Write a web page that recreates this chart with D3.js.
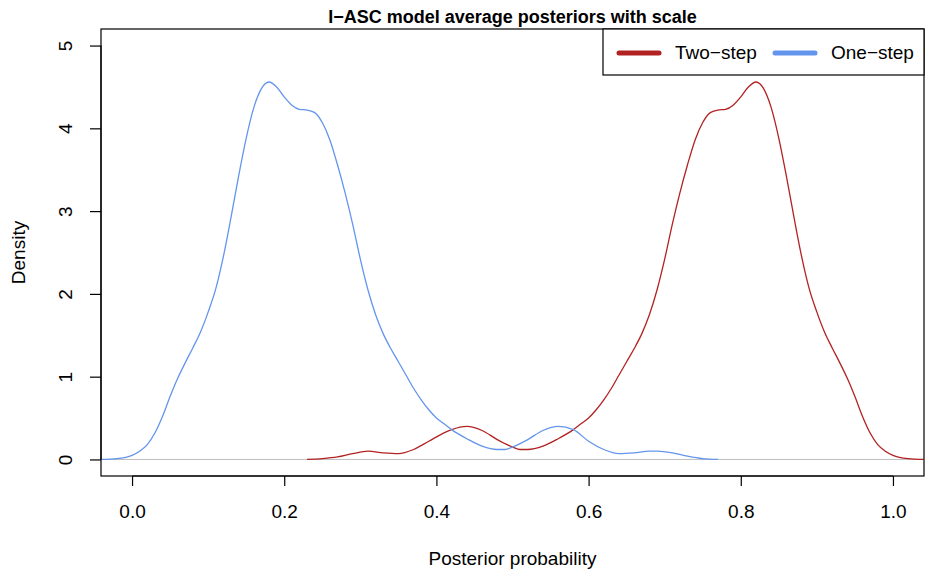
<!DOCTYPE html>
<html>
<head>
<meta charset="utf-8">
<script src="https://cdn.jsdelivr.net/npm/d3@7"></script>
<style>
  body { margin: 0; background: #fff; }
  text { font-family: "Liberation Sans", Arial, sans-serif; }
</style>
</head>
<body>
<div id="chart"></div>
<script>
// Density estimates
var twoStepX = [0.23, 0.25, 0.27, 0.29, 0.31, 0.33, 0.35, 0.37, 0.39, 0.41, 0.42, 0.44, 0.46, 0.48, 0.50, 0.51, 0.52, 0.54, 0.56, 0.58, 0.59, 0.60, 0.61, 0.62, 0.63, 0.64, 0.65, 0.66, 0.67, 0.68, 0.69, 0.70, 0.71, 0.72, 0.73, 0.74, 0.75, 0.76, 0.77, 0.78, 0.79, 0.80, 0.81, 0.82, 0.83, 0.84, 0.85, 0.86, 0.87, 0.88, 0.89, 0.90, 0.91, 0.92, 0.93, 0.94, 0.95, 0.96, 0.97, 0.98, 0.99, 1.00, 1.02, 1.04];
var twoStepY = [0.00, 0.01, 0.03, 0.07, 0.10, 0.08, 0.07, 0.12, 0.22, 0.32, 0.36, 0.40, 0.35, 0.24, 0.15, 0.12, 0.12, 0.16, 0.25, 0.36, 0.43, 0.50, 0.60, 0.72, 0.86, 1.02, 1.18, 1.34, 1.52, 1.75, 2.05, 2.42, 2.84, 3.22, 3.56, 3.86, 4.07, 4.19, 4.22, 4.23, 4.28, 4.38, 4.50, 4.56, 4.48, 4.25, 3.88, 3.42, 2.92, 2.45, 2.06, 1.78, 1.54, 1.35, 1.17, 0.98, 0.76, 0.52, 0.32, 0.18, 0.10, 0.05, 0.01, 0.00];

var oneStepX = [-0.04, -0.02, 0.00, 0.01, 0.02, 0.03, 0.04, 0.05, 0.06, 0.07, 0.08, 0.09, 0.10, 0.11, 0.12, 0.13, 0.14, 0.15, 0.16, 0.17, 0.18, 0.19, 0.20, 0.21, 0.22, 0.23, 0.24, 0.25, 0.26, 0.27, 0.28, 0.29, 0.30, 0.31, 0.32, 0.33, 0.34, 0.35, 0.36, 0.37, 0.38, 0.39, 0.40, 0.41, 0.42, 0.44, 0.46, 0.48, 0.49, 0.50, 0.52, 0.54, 0.56, 0.58, 0.60, 0.62, 0.64, 0.66, 0.68, 0.69, 0.71, 0.73, 0.75, 0.77];
var oneStepY = [0.00, 0.01, 0.05, 0.10, 0.18, 0.32, 0.52, 0.76, 0.98, 1.17, 1.35, 1.54, 1.78, 2.06, 2.45, 2.92, 3.42, 3.88, 4.25, 4.48, 4.56, 4.50, 4.38, 4.28, 4.23, 4.22, 4.19, 4.07, 3.86, 3.56, 3.22, 2.84, 2.42, 2.05, 1.75, 1.52, 1.34, 1.18, 1.02, 0.86, 0.72, 0.60, 0.50, 0.43, 0.36, 0.25, 0.16, 0.12, 0.12, 0.15, 0.24, 0.35, 0.40, 0.36, 0.22, 0.12, 0.07, 0.08, 0.10, 0.10, 0.08, 0.04, 0.01, 0.00];

var xTicks = [0.0, 0.2, 0.4, 0.6, 0.8, 1.0];
var yTicks = [0, 1, 2, 3, 4, 5];
var seriesNames = ["Two\u2212step", "One\u2212step"];
var seriesColors = ["#b22222", "#6495ed"];

var svgWidth = 927;
var svgHeight = 574;
var plot = { left: 101, right: 924, top: 29, bottom: 476 };

var svg = d3.select("#chart")
  .append("svg")
  .attr("width", svgWidth)
  .attr("height", svgHeight);

var xScale = d3.scaleLinear()
  .domain([-0.0408, 1.0408])
  .range([plot.left, plot.right]);

var yScale = d3.scaleLinear()
  .domain([-0.2, 5.2])
  .range([plot.bottom, plot.top]);

// zero line
svg.append("line")
  .attr("x1", plot.left).attr("x2", plot.right)
  .attr("y1", yScale(0)).attr("y2", yScale(0))
  .attr("stroke", "#bebebe")
  .attr("stroke-width", 1);

// density curves
var line = d3.line()
  .x(d => xScale(d[0]))
  .y(d => yScale(d[1]))
  .curve(d3.curveMonotoneX);

var series = [d3.zip(twoStepX, twoStepY), d3.zip(oneStepX, oneStepY)];

svg.append("g")
  .selectAll("path")
  .data(series)
  .enter()
  .append("path")
  .attr("d", line)
  .attr("fill", "none")
  .attr("stroke", (d, i) => seriesColors[i])
  .attr("stroke-width", 1.3);

// plot frame
svg.append("rect")
  .attr("x", plot.left).attr("y", plot.top)
  .attr("width", plot.right - plot.left)
  .attr("height", plot.bottom - plot.top)
  .attr("fill", "none")
  .attr("stroke", "#000")
  .attr("stroke-width", 1.2);

// axes, R style
var xAxis = d3.axisBottom(xScale)
  .tickValues(xTicks)
  .tickFormat(d3.format(".1f"))
  .tickSize(10)
  .tickPadding(19);

var yAxis = d3.axisLeft(yScale)
  .tickValues(yTicks)
  .tickFormat(d3.format("d"))
  .tickSize(11);

var gx = svg.append("g")
  .attr("transform", `translate(0, ${plot.bottom})`)
  .call(xAxis);
gx.select(".domain")
  .attr("d", `M${xScale(0)},0H${xScale(1)}`)
  .attr("stroke-width", 1.2);
gx.selectAll(".tick line").attr("stroke-width", 1.2);
gx.selectAll("text")
  .attr("font-size", "19px")
  .attr("font-family", "Liberation Sans, Arial, sans-serif")
  .attr("fill", "#000");

var gy = svg.append("g")
  .attr("transform", `translate(${plot.left}, 0)`)
  .call(yAxis);
gy.select(".domain")
  .attr("d", `M0,${yScale(0)}V${yScale(5)}`)
  .attr("stroke-width", 1.2);
gy.selectAll(".tick line").attr("stroke-width", 1.2);
gy.selectAll("text")
  .attr("x", null).attr("dy", null)
  .attr("transform", "translate(-36, 0) rotate(-90)")
  .attr("text-anchor", "middle")
  .attr("dominant-baseline", "central")
  .attr("font-size", "19px")
  .attr("font-family", "Liberation Sans, Arial, sans-serif")
  .attr("fill", "#000");

// title and axis labels
svg.append("text")
  .text("I\u2212ASC model average posteriors with scale")
  .attr("x", (plot.left + plot.right) / 2)
  .attr("y", 23)
  .attr("text-anchor", "middle")
  .attr("font-size", "18px")
  .style("font-weight", "bold");

svg.append("text")
  .text("Posterior probability")
  .attr("x", (plot.left + plot.right) / 2)
  .attr("y", 565)
  .attr("text-anchor", "middle")
  .attr("font-size", "19px");

svg.append("text")
  .text("Density")
  .attr("transform", `translate(25, ${(plot.top + plot.bottom) / 2}) rotate(-90)`)
  .attr("text-anchor", "middle")
  .attr("font-size", "19px");

// legend
var legend = svg.append("g");
legend.append("rect")
  .attr("x", 603).attr("y", plot.top)
  .attr("width", plot.right - 603)
  .attr("height", 46)
  .attr("fill", "#fff")
  .attr("stroke", "#000")
  .attr("stroke-width", 1.2);

var legendX = [619, 775];
seriesNames.forEach(function(name, i) {
  legend.append("line")
    .attr("x1", legendX[i]).attr("x2", legendX[i] + 40)
    .attr("y1", 53).attr("y2", 53)
    .attr("stroke", seriesColors[i])
    .attr("stroke-width", 5)
    .attr("stroke-linecap", "round");
  legend.append("text")
    .text(name)
    .attr("x", legendX[i] + 56)
    .attr("y", 59)
    .attr("font-size", "19px");
});
</script>
</body>
</html>
